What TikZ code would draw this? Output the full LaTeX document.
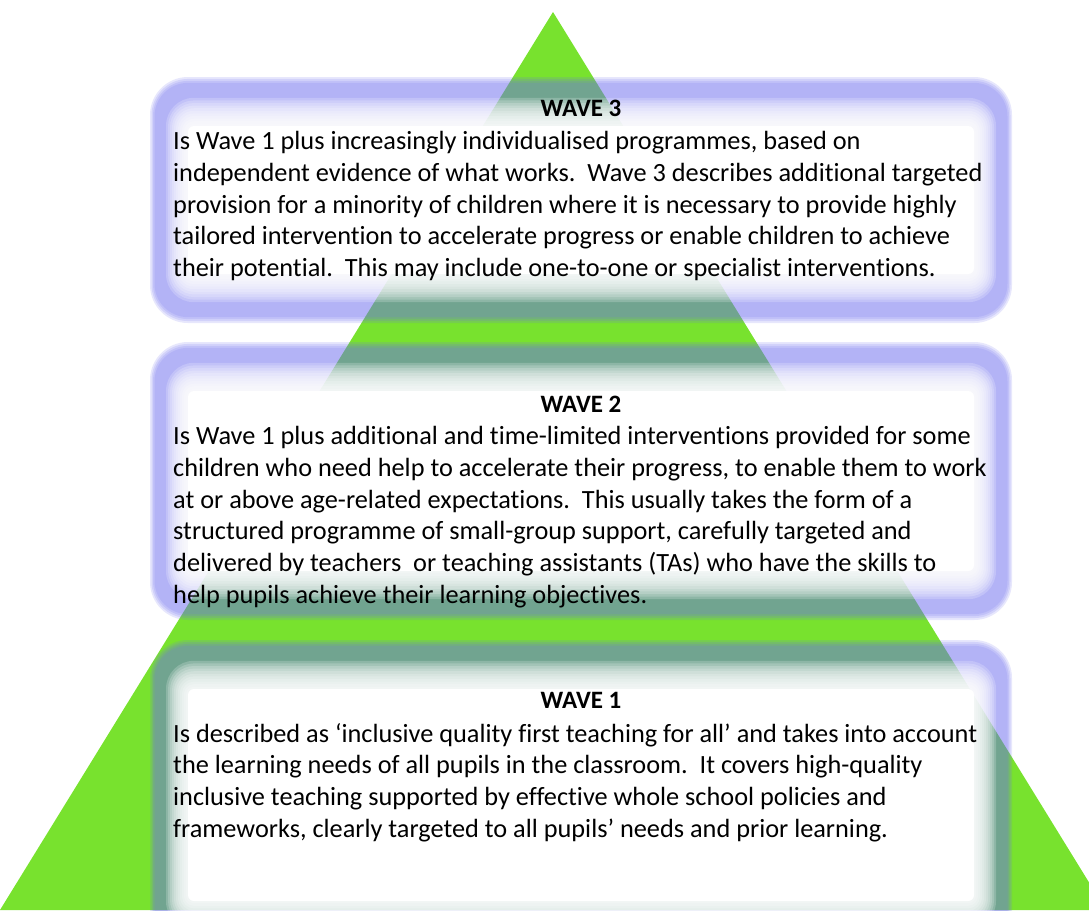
\documentclass[tikz,border=0pt]{standalone}
\usepackage{fontspec}
\setmainfont[Ligatures=NoCommon]{Carlito}
\usetikzlibrary{calc}
\definecolor{pyramidgreen}{RGB}{120,226,46}
\definecolor{glowblue}{RGB}{110,110,238}
\tikzset{body/.style={anchor=north west,inner sep=0pt,align=left,font=\fontsize{26.3}{31.8}\selectfont}}
\tikzset{title/.style={anchor=base,inner sep=0pt,font=\fontsize{25}{31.8}\selectfont\bfseries}}
% glowing box: top, bottom
\newcommand{\wavebox}[2]{%
  \foreach \d in {0,1.5,3,4.5}{
    \pgfmathsetmacro{\r}{38-\d}
    \pgfmathsetmacro{\e}{1.3*\d}
    \fill[glowblue,opacity=0.17,rounded corners=\r pt] (150+\d,#1+\e) rectangle (1012-\d,#2-\e);
  }
  \foreach \d in {16,18,...,36}{
    \pgfmathsetmacro{\r}{44-\d}
    \pgfmathsetmacro{\e}{1.3*\d}
    \fill[white,opacity=0.2,rounded corners=\r pt] (150+\d,#1+\e) rectangle (1012-\d,#2-\e);
  }
  \fill[white,rounded corners=6pt] (188,#1+49) rectangle (974,#2-49);
}

\begin{document}
\begin{tikzpicture}[x=1pt,y=-1pt]
	\useasboundingbox (0,0) rectangle (1089,910);
	\clip (0,0) rectangle (1089,910);

	% the pyramid
	\coordinate (apex) at (553,12);
	\coordinate (left) at (0,910);
	\coordinate (right) at (1106,910);
	\fill [pyramidgreen] (apex) -- (right) -- (left) -- cycle;

	% the three waves
	\wavebox{77}{323}
	\wavebox{342}{620}
	\wavebox{640}{950}

	\node [title] (T3) at (581,116) {WAVE 3};
	\node [body] (W3) at (173,131) {Is Wave 1 plus increasingly individualised programmes, based on\\
		independent evidence of what works.\ \ Wave 3 describes additional targeted\\
		provision for a minority of children where it is necessary to provide highly\\
		tailored intervention to accelerate progress or enable children to achieve\\
		their potential.\ \ This may include one-to-one or specialist interventions.};

	\node [title] (T2) at (581,412) {WAVE 2};
	\node [body] (W2) at (173,426) {Is Wave 1 plus additional and time-limited interventions provided for some\\
		children who need help to accelerate their progress, to enable them to work\\
		at or above age-related expectations.\ \ This usually takes the form of a\\
		structured programme of small-group support, carefully targeted and\\
		delivered by teachers\ \ or teaching assistants (TAs) who have the skills to\\
		help pupils achieve their learning objectives.};

	\node [title] (T1) at (581,708) {WAVE 1};
	\node [body] (W1) at (173,723) {Is described as ‘inclusive quality first teaching for all’ and takes into account\\
		the learning needs of all pupils in the classroom.\ \ It covers high-quality\\
		inclusive teaching supported by effective whole school policies and\\
		frameworks, clearly targeted to all pupils’ needs and prior learning.};

\end{tikzpicture}
\end{document}
